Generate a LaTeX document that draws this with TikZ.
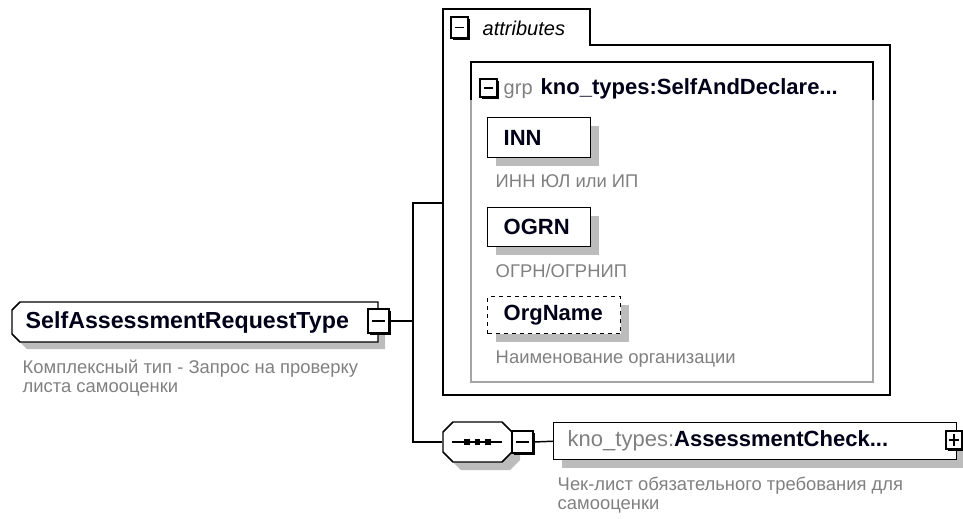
\documentclass[tikz,border=0pt]{standalone}
\usepackage{fontspec}
\setmainfont{Liberation Sans}
\usetikzlibrary{shadows}
\definecolor{descgray}{RGB}{128,128,128}
\definecolor{shadowgray}{RGB}{188,188,188}
\definecolor{framegray}{RGB}{165,165,165}
\definecolor{namenavy}{RGB}{0,0,24}
\begin{document}
\begin{tikzpicture}[x=0.75pt,y=-0.75pt,line width=1.1pt,
    nametext/.style={anchor=north west,inner ysep=0pt,align=left,text=namenavy,
      font=\fontsize{16.5}{18}\selectfont\bfseries},
    namebox/.style={nametext,draw=black,fill=white,
      drop shadow={shadow xshift=6pt,shadow yshift=-6pt,fill=shadowgray,opacity=1}},
    shapeshadow/.style={fill=shadowgray,draw=none},
    desc/.style={anchor=base west,inner sep=0pt,align=left,text=descgray,font=\fontsize{13.8}{14.25}\selectfont},
    togglebox/.style={draw=black,fill=white,inner sep=0pt,
      drop shadow={shadow xshift=1.5pt,shadow yshift=-1.5pt,fill=black,opacity=1}},
    minus/.style={togglebox,path picture={
      \draw ([xshift=3pt]path picture bounding box.west) -- ([xshift=-3pt]path picture bounding box.east);}},
    plus/.style={togglebox,path picture={
      \draw ([xshift=2.5pt]path picture bounding box.west) -- ([xshift=-2.5pt]path picture bounding box.east);
      \draw ([yshift=2.5pt]path picture bounding box.south) -- ([yshift=-2.5pt]path picture bounding box.north);}}]
\useasboundingbox (0,0) rectangle (963,518);

\draw[fill=white] (443,45) -- (443,9) -- (590,9) -- (590,45) -- (890,45) -- (890,395) -- (443,395) -- cycle;
\draw[line width=1.8pt] (890,46) -- (890,395) -- (444,395);
\node[minus,minimum width=12.75pt,minimum height=15.75pt] (attrm) at (459.5,27.5) {};
\node[anchor=base west,inner sep=0pt,font=\fontsize{15}{18}\selectfont\itshape] (attrlbl) at (482,35) {attributes};

\draw[framegray] (471,62) rectangle (873,382);
\draw (471,100) -- (471,62) -- (873,62) -- (873,100);
\node[minus,minimum width=12.75pt,minimum height=13.5pt] (grpm) at (488.5,88) {};
\node[anchor=base west,inner sep=0pt,text=descgray,font=\fontsize{15}{18}\selectfont] (grplbl) at (503,94) {grp};
\node[anchor=base west,inner sep=0pt,text=namenavy,font=\fontsize{16.5}{18}\selectfont\bfseries] (grpname) at (540,94) {kno\_types:SelfAndDeclare...};

\node[namebox,inner xsep=12pt,text width=53.25pt,minimum height=30pt] (inn) at (487,117) {INN};
\node[desc] (inndesc) at (495,187) {ИНН ЮЛ или ИП};
\node[namebox,inner xsep=12pt,text width=53.25pt,minimum height=29.25pt] (ogrn) at (487,207) {OGRN};
\node[desc] (ogrndesc) at (495,277) {ОГРН/ОГРНИП};
\node[namebox,dashed,inner xsep=12pt,text width=75.75pt,minimum height=27.75pt] (orgname) at (487,296) {OrgName};
\node[desc] (orgdesc) at (495,363) {Наименование организации};

\path[shapeshadow,xshift=5.25pt,yshift=-5.25pt] (20,302) -- (378,302) -- (378,342) -- (20,342) -- (12,334) -- (12,310) -- cycle;
\draw[fill=white] (20,302) -- (378,302) -- (378,342) -- (20,342) -- (12,334) -- (12,310) -- cycle;
\node[nametext,inner xsep=9.75pt,text width=255pt,minimum height=30pt,
  font=\fontsize{17.4}{18}\selectfont\bfseries] (main) at (12,302) {SelfAssessmentRequestType};
\node[minus,minimum width=15.75pt,minimum height=18pt] (mainm) at (378.5,321) {};
\node[desc] (maindesc) at (22,392) {Комплексный тип - Запрос на проверку\\листа самооценки};

\path[shapeshadow,xshift=6pt,yshift=-6pt] (453,422) -- (502,422) -- (512,432) -- (512,452) -- (502,462) -- (453,462) -- (443,452) -- (443,432) -- cycle;
\draw[fill=white] (453,422) -- (502,422) -- (512,432) -- (512,452) -- (502,462) -- (453,462) -- (443,452) -- (443,432) -- cycle;
\node[inner sep=0pt,minimum width=51.75pt,minimum height=30pt] (seq) at (477.5,442) {};
\draw ([xshift=-19pt]seq.center) -- ([xshift=18.4pt]seq.center);
\foreach \dx in {-7.9,0,7.9}
  \fill ([xshift=\dx pt]seq.center) +(-2.2pt,-2.2pt) rectangle +(2.2pt,2.2pt);
\node[minus,minimum width=15.75pt,minimum height=16.5pt] (seqm) at (522.5,442) {};

\node[namebox,inner xsep=10.5pt,text width=281.25pt,minimum height=27.75pt] (elem) at (553,422)
  {\textcolor{descgray}{\mdseries kno\_types:}AssessmentCheck...};
\node[plus,minimum width=12pt,minimum height=13.5pt] (elemp) at (954,440) {};
\node[desc] (elemdesc) at (557,509) {Чек-лист обязательного требования для\\самооценки};

\coordinate (attr) at (443,203);
\coordinate (split) at (413,321);
\draw (mainm.east) -- (split);
\draw (attr) -| (split) |- (seq.west);
\draw (seqm.east) -- (elem.west);
\end{tikzpicture}
\end{document}
